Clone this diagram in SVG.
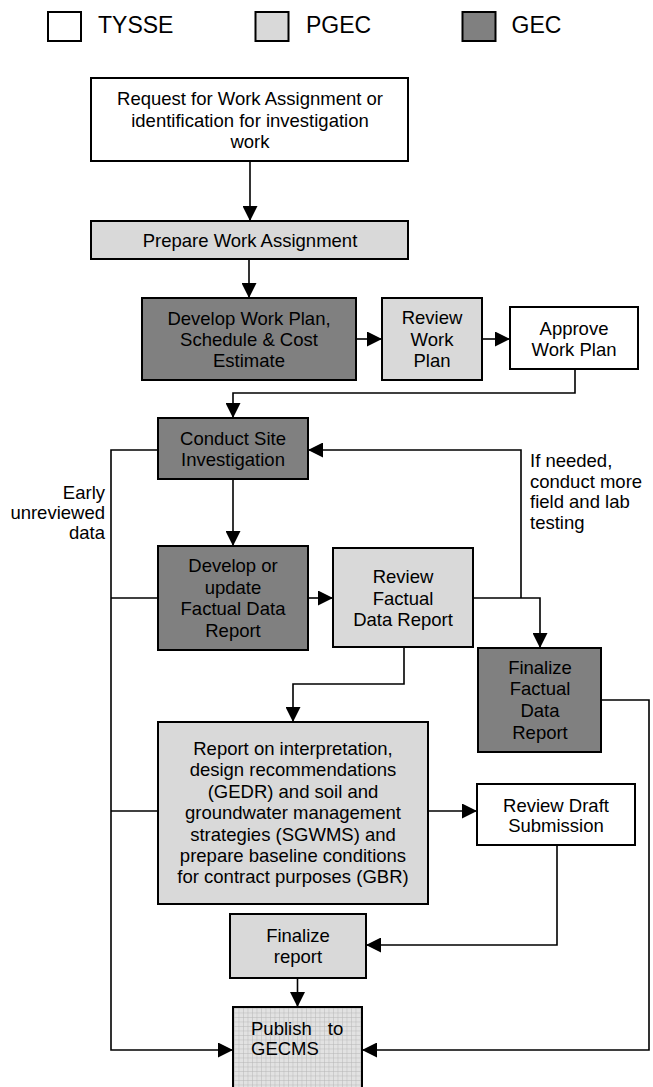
<svg xmlns="http://www.w3.org/2000/svg" width="653" height="1087" viewBox="0 0 653 1087">
<style>
  text { font-family: "Liberation Sans", Arial, sans-serif; font-size: 18.5px; fill: #000; }
  .c { text-anchor: middle; }
  .r { text-anchor: end; }
  .leg { font-size: 23px; }
  .box { stroke: #000; stroke-width: 2; }
  .tysse { fill: #ffffff; }
  .pgec { fill: #d9d9d9; }
  .gec { fill: #808080; }
  .pub { fill: url(#grid); }
  .conn path { fill: none; stroke: #000; stroke-width: 1.6; }
</style>
<defs>
  <marker id="arr" markerUnits="userSpaceOnUse" markerWidth="15" markerHeight="15" viewBox="0 0 15 15" refX="15" refY="7.5" orient="auto">
    <path d="M0,0 L15,7.5 L0,15 z" fill="#000"/>
  </marker>
  <pattern id="grid" patternUnits="userSpaceOnUse" width="4.5" height="4.5">
    <rect width="4.5" height="4.5" fill="#e2e2e2"/>
    <path d="M0,0.25 H4.5 M0.25,0 V4.5" stroke="#b4b4b4" stroke-width="0.6"/>
  </pattern>
</defs>
<rect width="653" height="1087" fill="#fff"/>

<g id="legend">
  <rect class="box tysse" x="48" y="12" width="33" height="29"/>
  <text class="leg" x="98" y="33">TYSSE</text>
  <rect class="box pgec" x="255.5" y="12" width="33" height="29"/>
  <text class="leg" x="306" y="33">PGEC</text>
  <rect class="box gec" x="462.5" y="12" width="33" height="29"/>
  <text class="leg" x="511.5" y="33">GEC</text>
</g>

<g class="conn" id="connectors">
  <path d="M250,161 V221" marker-end="url(#arr)"/>
  <path d="M249,259 V298" marker-end="url(#arr)"/>
  <path d="M356,339 H382" marker-end="url(#arr)"/>
  <path d="M482,339 H510" marker-end="url(#arr)"/>
  <path d="M575,369 V393 H233 V418" marker-end="url(#arr)"/>
  <path d="M233,479 V546" marker-end="url(#arr)"/>
  <path d="M308,598 H333" marker-end="url(#arr)"/>
  <path d="M473,598 H540 V648" marker-end="url(#arr)"/>
  <path d="M521,598 V450 H308" marker-end="url(#arr)"/>
  <path d="M404,647 V684 H293 V722" marker-end="url(#arr)"/>
  <path d="M428,811 H477" marker-end="url(#arr)"/>
  <path d="M557,845 V945 H366" marker-end="url(#arr)"/>
  <path d="M297.5,978 V1007" marker-end="url(#arr)"/>
  <path d="M158,450 H111 V1050 H233" marker-end="url(#arr)"/>
  <path d="M158,598 H111"/>
  <path d="M158,811 H111"/>
  <path d="M601,700 H649 V1050 H362" marker-end="url(#arr)"/>
</g>

<g id="label-early">
  <text class="r" x="105" y="499">Early</text>
  <text class="r" x="105" y="519">unreviewed</text>
  <text class="r" x="105" y="539">data</text>
</g>
<g id="label-ifneeded">
  <text x="530" y="467">If needed,</text>
  <text x="530" y="487.5">conduct more</text>
  <text x="530" y="508">field and lab</text>
  <text x="530" y="528.5">testing</text>
</g>

<g id="request">
  <rect class="box tysse" x="91" y="78" width="317" height="83"/>
  <text class="c" x="250" y="105">Request for Work Assignment or</text>
  <text class="c" x="250" y="126.5">identification for investigation</text>
  <text class="c" x="250" y="147.5">work</text>
</g>
<g id="prepare">
  <rect class="box pgec" x="91" y="221" width="317" height="38"/>
  <text class="c" x="250" y="247">Prepare Work Assignment</text>
</g>
<g id="develop-plan">
  <rect class="box gec" x="142" y="298" width="214" height="82"/>
  <text class="c" x="249" y="325">Develop Work Plan,</text>
  <text class="c" x="249" y="346">Schedule &amp; Cost</text>
  <text class="c" x="249" y="367">Estimate</text>
</g>
<g id="review-plan">
  <rect class="box pgec" x="382" y="298" width="100" height="82"/>
  <text class="c" x="432" y="324">Review</text>
  <text class="c" x="432" y="346">Work</text>
  <text class="c" x="432" y="367">Plan</text>
</g>
<g id="approve-plan">
  <rect class="box tysse" x="510" y="307" width="128" height="62"/>
  <text class="c" x="574" y="335">Approve</text>
  <text class="c" x="574" y="356">Work Plan</text>
</g>
<g id="conduct">
  <rect class="box gec" x="158" y="418" width="150" height="61"/>
  <text class="c" x="233" y="445">Conduct Site</text>
  <text class="c" x="233" y="466">Investigation</text>
</g>
<g id="develop-fdr">
  <rect class="box gec" x="158" y="546" width="150" height="104"/>
  <text class="c" x="233" y="572">Develop or</text>
  <text class="c" x="233" y="593.5">update</text>
  <text class="c" x="233" y="615">Factual Data</text>
  <text class="c" x="233" y="637">Report</text>
</g>
<g id="review-fdr">
  <rect class="box pgec" x="333" y="548" width="140" height="99"/>
  <text class="c" x="403" y="583">Review</text>
  <text class="c" x="403" y="604.5">Factual</text>
  <text class="c" x="403" y="626">Data Report</text>
</g>
<g id="finalize-fdr">
  <rect class="box gec" x="478" y="648" width="123" height="104"/>
  <text class="c" x="540" y="673.5">Finalize</text>
  <text class="c" x="540" y="695">Factual</text>
  <text class="c" x="540" y="717">Data</text>
  <text class="c" x="540" y="738.5">Report</text>
</g>
<g id="report">
  <rect class="box pgec" x="158" y="722" width="270" height="182"/>
  <text class="c" x="293" y="755">Report on interpretation,</text>
  <text class="c" x="293" y="776.4">design recommendations</text>
  <text class="c" x="293" y="797.8">(GEDR) and soil and</text>
  <text class="c" x="293" y="819.2">groundwater management</text>
  <text class="c" x="293" y="840.6">strategies (SGWMS) and</text>
  <text class="c" x="293" y="862">prepare baseline conditions</text>
  <text class="c" x="293" y="883.4">for contract purposes (GBR)</text>
</g>
<g id="review-draft">
  <rect class="box tysse" x="477" y="784" width="158" height="61"/>
  <text class="c" x="556" y="812">Review Draft</text>
  <text class="c" x="556" y="832">Submission</text>
</g>
<g id="finalize-report">
  <rect class="box pgec" x="230" y="914" width="136" height="64"/>
  <text class="c" x="298" y="942">Finalize</text>
  <text class="c" x="298" y="963">report</text>
</g>
<g id="publish">
  <rect class="box pub" x="233" y="1007" width="129" height="95"/>
  <text x="251" y="1035" word-spacing="11">Publish to</text>
  <text x="251" y="1055">GECMS</text>
</g>
</svg>
